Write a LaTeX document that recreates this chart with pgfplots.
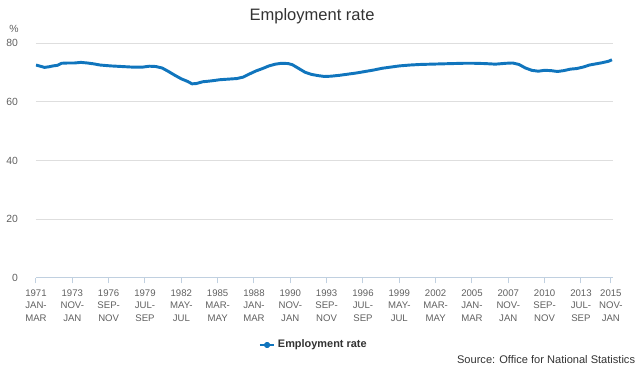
\documentclass[border=0pt]{standalone}
\usepackage{pgfplots}
\pgfplotsset{compat=1.18}
\usepackage{fontspec}
\setmainfont{Liberation Sans}
\definecolor{linec}{RGB}{16,117,189}
\definecolor{ticktxt}{RGB}{96,96,96}
\definecolor{titletxt}{RGB}{51,51,51}
\definecolor{gridc}{RGB}{222,222,222}
\definecolor{axisc}{RGB}{192,208,224}
\pgfplotstableread{
m v
0 72.5
4 72.1
8 71.7
12 71.9
16 72.2
20 72.4
24 73.1
30 73.2
36 73.2
42 73.4
48 73.2
54 72.9
60 72.5
70 72.2
80 72.0
90 71.8
100 71.8
106 72.1
112 72.0
118 71.5
124 70.3
130 69.0
136 67.8
142 66.9
146 66.1
150 66.2
156 66.8
164 67.1
172 67.5
180 67.7
188 67.9
194 68.4
200 69.5
206 70.5
212 71.3
218 72.2
224 72.8
230 73.1
236 73.0
240 72.6
246 71.3
252 70.0
258 69.3
264 68.9
270 68.6
276 68.7
284 69.0
292 69.4
300 69.8
308 70.3
316 70.8
324 71.4
332 71.8
340 72.2
350 72.5
360 72.7
370 72.8
380 72.9
390 73.0
400 73.1
410 73.1
420 73.0
430 72.8
440 73.1
446 73.2
452 72.7
458 71.5
464 70.7
470 70.4
476 70.7
482 70.6
488 70.3
494 70.6
500 71.1
506 71.3
512 71.8
518 72.5
524 72.9
530 73.3
536 73.8
539 74.3
}\emp
\begin{document}
\begin{tikzpicture}
\useasboundingbox (0,0) rectangle (480pt,276pt);
\begin{axis}[
  at={(27pt,67.5pt)}, anchor=south west,
  scale only axis, width=432.75pt, height=176.25pt,
  xmin=0, xmax=540, ymin=0, ymax=80,
  ytick={0,20,40,60,80},
  /pgf/number format/assume math mode=true,
  ymajorgrids, grid style={gridc, line width=0.75pt},
  axis y line*=left,
  y axis line style={draw=none},
  axis x line*=bottom,
  x axis line style={axisc, line width=0.75pt, -},
  xtick={0,34,68,102,136,170,204,238,272,306,340,374,408,442,476,510,538},
  xticklabels={1971\\JAN-\\MAR,1973\\NOV-\\JAN,1976\\SEP-\\NOV,1979\\JUL-\\SEP,1982\\MAY-\\JUL,1985\\MAR-\\MAY,1988\\JAN-\\MAR,1990\\NOV-\\JAN,1993\\SEP-\\NOV,1996\\JUL-\\SEP,1999\\MAY-\\JUL,2002\\MAR-\\MAY,2005\\JAN-\\MAR,2007\\NOV-\\JAN,2010\\SEP-\\NOV,2013\\JUL-\\SEP,2015\\NOV-\\JAN},
  xticklabel style={align=center, font=\fontsize{7.2}{9.5}\selectfont, text=ticktxt, yshift=-1pt},
  xtick style={axisc, line width=0.75pt},
  tick align=outside, major tick length=4pt,
  yticklabel style={font=\fontsize{7.8}{9}\selectfont, text=ticktxt, xshift=-6pt},
  ytick style={draw=none},
  legend style={at={(axis description cs:0.482,-0.285)}, anchor=center, draw=none, font=\fontsize{8.2}{10}\selectfont\bfseries, text=titletxt, legend cell align=left},
  legend image code/.code={\draw[#1, line width=1.5pt] (0cm,0cm) -- (0.38cm,0cm); \fill[linec] (0.19cm,0cm) circle (1.4pt);},
]
\addplot[linec, line width=2.2pt, line join=round] table[x=m,y=v] {\emp};
\addlegendentry{Employment rate}
\end{axis}
\node[font=\fontsize{12.4}{14}\selectfont, text=titletxt] at (234pt,264pt) {Employment rate};
\node[font=\fontsize{7.8}{9}\selectfont, text=ticktxt] at (10.5pt,254pt) {\%};
\node[font=\fontsize{8.3}{10}\selectfont, text=titletxt, anchor=east, inner sep=0pt] at (476.5pt,6pt) {Source: Office for National Statistics};
\end{tikzpicture}
\end{document}
